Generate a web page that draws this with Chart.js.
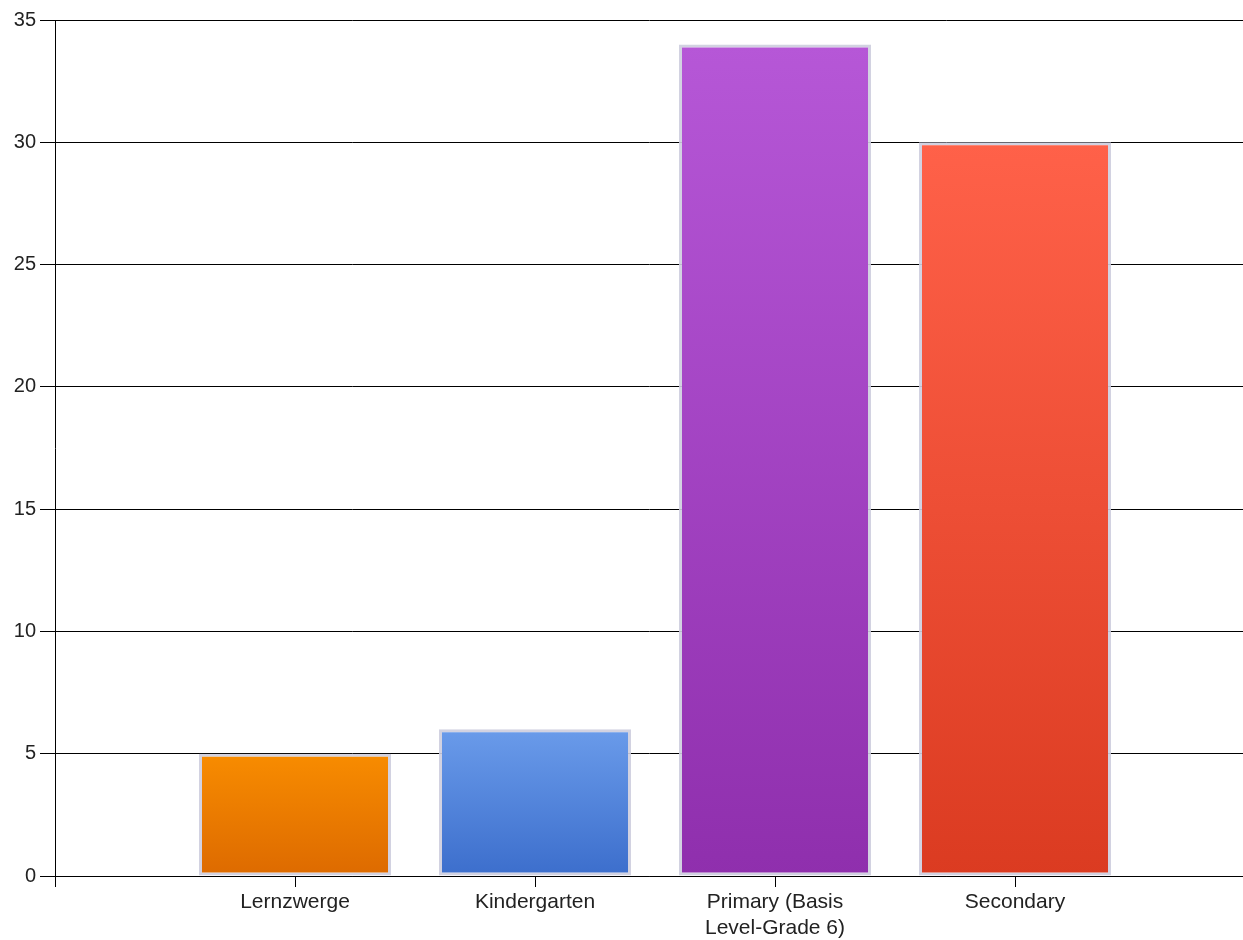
<!DOCTYPE html>
<html>
<head>
<meta charset="utf-8">
<script src="https://cdn.jsdelivr.net/npm/chart.js@4/dist/chart.umd.min.js"></script>
<style>
  html, body { margin: 0; padding: 0; background: #fff; overflow: hidden; }
  #wrap { width: 1243px; height: 940px; }
</style>
</head>
<body>
<div id="wrap"><canvas id="myChart"></canvas></div>
<script>
const categories = ['Lernzwerge', 'Kindergarten', ['Primary (Basis', 'Level-Grade 6)'], 'Secondary'];
const positions = [1, 2, 3, 4];
const values = [5, 6, 34, 30];
const topColors = ['#f88c00', '#6a9bea', '#b657d7', '#ff6149'];
const bottomColors = ['#dd6a00', '#3c6ecc', '#8f2fad', '#db3b21'];
const yTicks = [0, 5, 10, 15, 20, 25, 30, 35];

document.addEventListener('DOMContentLoaded', function () {
    const ctx = document.getElementById('myChart').getContext('2d');

    function barGradient(c) {
        const chart = c.chart;
        if (!chart.chartArea || c.dataIndex === undefined) return topColors[c.dataIndex || 0];
        const y = chart.scales.y;
        const top = y.getPixelForValue(values[c.dataIndex]);
        const bottom = y.getPixelForValue(0);
        const g = chart.ctx.createLinearGradient(0, top, 0, bottom);
        g.addColorStop(0, topColors[c.dataIndex]);
        g.addColorStop(1, bottomColors[c.dataIndex]);
        return g;
    }

    const chartData = {
        datasets: [{
            data: positions.map((p, i) => ({ x: p, y: values[i] })),
            backgroundColor: barGradient,
            borderColor: 'rgba(205,205,222,0.9)',
            borderWidth: 3,
            borderSkipped: false,
            barPercentage: 0.8,
            categoryPercentage: 1
        }]
    };

    const config = {
        type: 'bar',
        data: chartData,
        options: {
            responsive: true,
            maintainAspectRatio: false,
            animation: false,
            layout: { padding: { top: 20, right: 0, left: 0, bottom: 0 } },
            plugins: {
                legend: { display: false },
                tooltip: { enabled: false }
            },
            scales: {
                x: {
                    type: 'linear',
                    min: 0,
                    max: 4.95,
                    offset: false,
                    grid: { drawOnChartArea: false, offset: false, color: '#000', tickLength: 11 },
                    border: { color: '#000', width: 1 },
                    afterBuildTicks: function (s) {
                        s.ticks = [0].concat(positions).map(v => ({ value: v }));
                    },
                    ticks: {
                        includeBounds: false,
                        autoSkip: false,
                        maxRotation: 0,
                        color: '#222',
                        padding: 2,
                        font: { family: 'Liberation Sans, Arial, sans-serif', size: 21, lineHeight: 1.25 },
                        callback: function (v) {
                            const i = positions.indexOf(v);
                            return i >= 0 ? categories[i] : '';
                        }
                    },
                    afterFit: function (s) { s.height = 64; }
                },
                y: {
                    min: 0,
                    max: 35,
                    afterBuildTicks: function (s) {
                        s.ticks = yTicks.map(v => ({ value: v }));
                    },
                    grid: { color: '#000', lineWidth: 1, tickLength: 15 },
                    border: { color: '#000', width: 1 },
                    ticks: {
                        color: '#222',
                        padding: 4,
                        font: { family: 'Liberation Sans, Arial, sans-serif', size: 20 }
                    },
                    afterFit: function (s) { s.width = 55; }
                }
            }
        }
    };
    const myChart = new Chart(ctx, config);
});
</script>
</body>
</html>
